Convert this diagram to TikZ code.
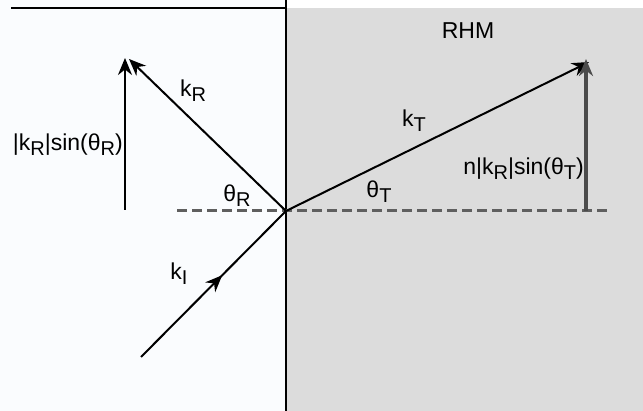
\documentclass[tikz,border=0pt]{standalone}
\usepackage{fontspec}
\setmainfont{Liberation Sans}
\usetikzlibrary{positioning, calc, arrows.meta, decorations.markings}
\definecolor{PaleBg}{RGB}{250, 252, 254}
\definecolor{MediumGray}{RGB}{220, 220, 220}
\definecolor{DashGray}{RGB}{95, 95, 95}
\definecolor{CompGray}{RGB}{75, 75, 75}
\newcommand{\lo}[1]{\raisebox{-0.4ex}{\fontsize{20}{20}\selectfont #1}}

\begin{document}
\begin{tikzpicture}[
    x=1pt, y=-1pt,
    font=\fontsize{23}{25}\selectfont,
    >={Stealth[length=17pt, width=14pt]},
    vecstyle/.style={->, line width=2pt},
    compstyle/.style={->, line width=2pt},
    midarrow/.style={line width=2pt, decoration={markings, mark=at position 0.56 with {\arrow{Stealth[length=17pt, width=14pt]}}}, postaction={decorate}},
    lbl/.style={inner sep=0pt}
]
    \useasboundingbox (0,0) rectangle (643,411);

    % Media
    \fill[PaleBg] (0,0) rectangle (286,411);
    \fill[MediumGray] (286,8) rectangle (643,411);
    \coordinate (topl) at (11,8);
    \coordinate (topr) at (286,8);
    \coordinate (itop) at (286,0);
    \coordinate (ibot) at (286,411);
    \draw[line width=2.4pt] (topl) -- (topr);
    \draw[line width=1.8pt] (itop) -- (ibot);

    % Points
    \coordinate (O) at (286,211);
    \coordinate (kIstart) at (141,357);
    \coordinate (kRend) at (129,59);
    \coordinate (kTend) at (589,62);
    \coordinate (nl) at (177,211);
    \coordinate (nr) at (607,211);
    \coordinate (sRbot) at (125,210);
    \coordinate (sRtop) at (125,58);
    \coordinate (sTbot) at (586,211);
    \coordinate (sTtop) at (586,59);

    % Normal
    \draw[DashGray, line width=3pt, dash pattern=on 10pt off 5pt] (nl) -- (nr);

    % Wave vectors
    \draw[midarrow] (kIstart) -- (O);
    \draw[vecstyle] (O) -- (kRend);
    \draw[vecstyle] (O) -- (kTend);

    % Components
    \draw[compstyle] (sRbot) -- (sRtop);
    \draw[compstyle, line width=3.4pt, CompGray] (sTbot) -- (sTtop);

    % Labels
    \node (rhm) [lbl] at (468,31) {RHM};
    \node (kR) [lbl] at (193,91) {k\lo{R}};
    \node (kT) [lbl] at (414,121) {k\lo{T}};
    \node (kI) [lbl] at (179,274) {k\lo{I}};
    \node (thR) [lbl] at (237,196) {θ\lo{R}};
    \node (thT) [lbl] at (379,192) {θ\lo{T}};
    \node (sinR) [lbl, anchor=east] at (123,145) {|k\lo{R}|sin(θ\lo{R})};
    \node (sinT) [lbl, anchor=east] at (584,169) {n|k\lo{R}|sin(θ\lo{T})};

\end{tikzpicture}
\end{document}
